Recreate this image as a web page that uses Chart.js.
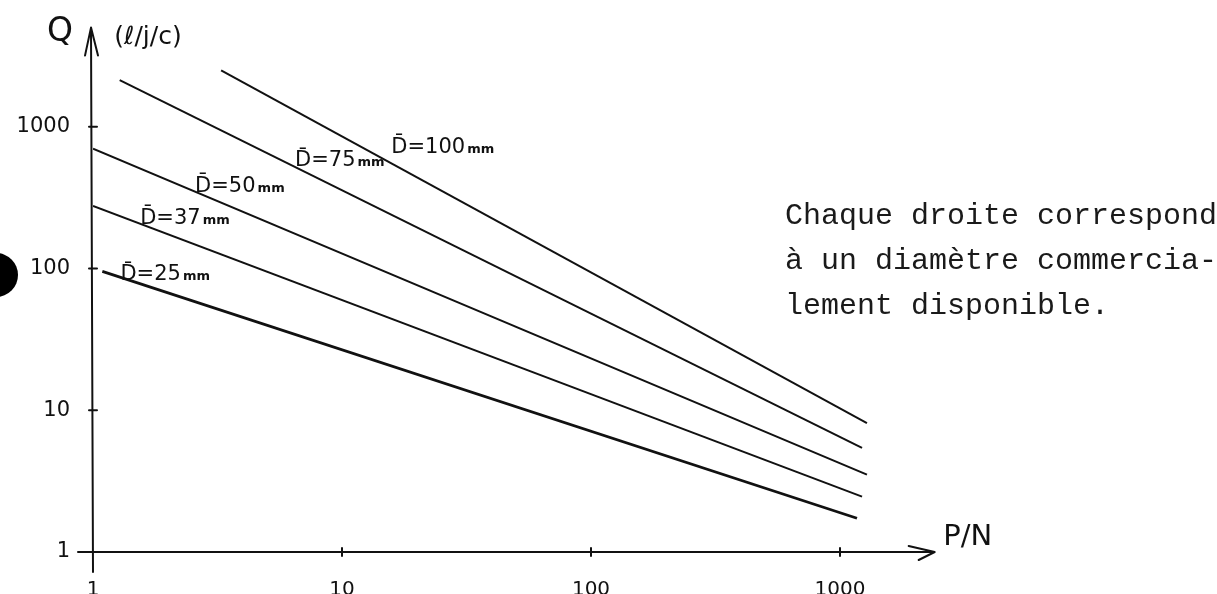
<!DOCTYPE html>
<html lang="fr">
<head>
<meta charset="utf-8">
<title>Q en fonction de P/N</title>
<script src="https://cdn.jsdelivr.net/npm/chart.js@4.4.1/dist/chart.umd.min.js"></script>
<style>
  html, body { margin: 0; padding: 0; background: #fff; }
  #wrap { position: relative; width: 1217px; height: 594px; overflow: hidden; }
  #note {
    position: absolute; left: 785px; top: 194px;
    font-family: "Liberation Mono", "DejaVu Sans Mono", monospace;
    font-size: 30px; line-height: 45px; color: #1a1a1a; white-space: pre;
  }
  #hole {
    position: absolute; left: -26px; top: 253px; width: 44px; height: 44px;
    border-radius: 50%; background: #000;
  }
</style>
</head>
<body>
<div id="wrap">
  <canvas id="q-chart" width="1217" height="594"></canvas>
  <div id="hole"></div>
  <div id="note">Chaque droite correspond
à un diamètre commercia-
lement disponible.</div>
</div>
<script>
/* ===================== DATA ===================== */

// P/N (x) and Q in l/j/c (y), both ends of each straight line
const pnD25 = [1.09, 1170];
const qD25 = [95.3, 1.73];

const pnD37 = [1, 1226];
const qD37 = [276, 2.46];

const pnD50 = [1, 1283];
const qD50 = [701, 3.51];

const pnD75 = [1.28, 1226];
const qD75 = [2130, 5.42];

const pnD100 = [3.27, 1283];
const qD100 = [2500, 8.11];

const seriesNames = ["D\u0304=25", "D\u0304=37", "D\u0304=50", "D\u0304=75", "D\u0304=100"];
const seriesUnit = "mm";

// where each name sits, in data units
const namePN = [1.95, 2.34, 3.89, 9.8, 25.4];
const nameQ = [93.7, 235, 393, 597, 748];

const xTickValues = [1, 10, 100, 1000];
const xTickLabels = ["1", "10", "100", "1000"];

const yTickValues = [1, 10, 100, 1000];
const yTickLabels = ["1", "10", "100", "1000"];

const X_MAX = 2400;
const Y_MAX = 5000;

/* ===================== LAYOUT ===================== */

const W = 1217;
const AXIS_LEFT = 93;     // px, where P/N = 1
const AXIS_BOTTOM = 552;  // px, where Q = 1
const PX_PER_DEC_X = 249;
const PX_PER_DEC_Y = 143;

const areaRight = AXIS_LEFT + PX_PER_DEC_X * Math.log10(X_MAX);
const areaTop = AXIS_BOTTOM - PX_PER_DEC_Y * Math.log10(Y_MAX);

const INK = "#111";
const HAND = "'DejaVu Sans', sans-serif";

function toPoints(xs, ys) {
  return xs.map((x, i) => ({ x, y: ys[i] }));
}

const lines = [
  toPoints(pnD25, qD25),
  toPoints(pnD37, qD37),
  toPoints(pnD50, qD50),
  toPoints(pnD75, qD75),
  toPoints(pnD100, qD100),
];

/* ===================== DECOR PLUGIN ===================== */

const axesDecor = {
  id: "axesDecor",
  afterDraw(chart) {
    const { ctx, chartArea } = chart;
    const xs = chart.scales.x;
    const ys = chart.scales.y;
    const x0 = xs.getPixelForValue(1);
    const y0 = ys.getPixelForValue(1);
    const top = chartArea.top;
    const right = chartArea.right;

    ctx.save();
    ctx.strokeStyle = INK;
    ctx.fillStyle = INK;
    ctx.lineWidth = 2;
    ctx.lineCap = "round";
    ctx.lineJoin = "round";

    // axes + arrows
    ctx.beginPath();
    ctx.moveTo(x0, y0 + 20);
    ctx.lineTo(x0 - 2, top);
    ctx.moveTo(x0 - 8, top + 28);
    ctx.lineTo(x0 - 2, top);
    ctx.lineTo(x0 + 5, top + 28);

    ctx.moveTo(x0 - 15, y0);
    ctx.lineTo(right, y0);
    ctx.moveTo(right - 26, y0 - 6);
    ctx.lineTo(right, y0);
    ctx.lineTo(right - 16, y0 + 8);
    ctx.stroke();

    // tick marks
    ctx.beginPath();
    xTickValues.slice(1).forEach((v) => {
      const px = xs.getPixelForValue(v);
      ctx.moveTo(px, y0 - 4);
      ctx.lineTo(px, y0 + 4);
    });
    yTickValues.slice(1).forEach((v) => {
      const py = ys.getPixelForValue(v);
      ctx.moveTo(x0 - 4, py);
      ctx.lineTo(x0 + 4, py);
    });
    ctx.stroke();

    // axis titles
    ctx.textBaseline = "middle";
    ctx.textAlign = "center";
    ctx.font = `33px ${HAND}`;
    ctx.fillText("Q", 60, 32);
    ctx.font = `25px ${HAND}`;
    ctx.fillText("(\u2113/j/c)", 148, 37);
    ctx.font = `29px ${HAND}`;
    ctx.fillText("P/N", right + 33, y0 - 15);

    // series names
    seriesNames.forEach((name, i) => {
      const cx = xs.getPixelForValue(namePN[i]);
      const cy = ys.getPixelForValue(nameQ[i]);
      ctx.font = `21px ${HAND}`;
      const wMain = ctx.measureText(name).width;
      ctx.font = `bold 13px ${HAND}`;
      const wUnit = ctx.measureText(seriesUnit).width;
      const left = cx - (wMain + wUnit + 2) / 2;
      ctx.textAlign = "left";
      ctx.textBaseline = "alphabetic";
      ctx.font = `21px ${HAND}`;
      ctx.fillText(name, left, cy + 8);
      ctx.font = `bold 13px ${HAND}`;
      ctx.fillText(seriesUnit, left + wMain + 2, cy + 8);
    });

    ctx.restore();
  },
};

/* ===================== CHART ===================== */

const canvas = document.getElementById("q-chart");

new Chart(canvas, {
  type: "line",
  data: {
    datasets: lines.map((pts, i) => ({
      label: seriesNames[i] + seriesUnit,
      data: pts,
      borderColor: INK,
      borderWidth: i === 0 ? 2.8 : 2,
      pointRadius: 0,
      tension: 0,
      fill: false,
    })),
  },
  options: {
    responsive: false,
    animation: false,
    devicePixelRatio: 1,
    layout: {
      padding: { left: 0, top: areaTop, right: W - areaRight, bottom: 0 },
    },
    plugins: {
      legend: { display: false },
      tooltip: { enabled: false },
    },
    scales: {
      x: {
        type: "logarithmic",
        min: 1,
        max: X_MAX,
        grid: { display: false },
        border: { display: false },
        afterBuildTicks: (s) => {
          s.ticks = xTickValues.map((v) => ({ value: v }));
        },
        afterFit: (s) => {
          s.height = 594 - AXIS_BOTTOM;
        },
        ticks: {
          autoSkip: false,
          maxRotation: 0,
          padding: 18,
          color: INK,
          font: { family: "DejaVu Sans", size: 20 },
          callback: (v, i) => xTickLabels[i],
        },
      },
      y: {
        type: "logarithmic",
        min: 1,
        max: Y_MAX,
        grid: { display: false },
        border: { display: false },
        afterBuildTicks: (s) => {
          s.ticks = yTickValues.map((v) => ({ value: v }));
        },
        afterFit: (s) => {
          s.width = AXIS_LEFT;
        },
        ticks: {
          autoSkip: false,
          padding: 15,
          color: INK,
          font: { family: "DejaVu Sans", size: 21 },
          callback: (v, i) => yTickLabels[i],
        },
      },
    },
  },
  plugins: [axesDecor],
});
</script>
</body>
</html>
